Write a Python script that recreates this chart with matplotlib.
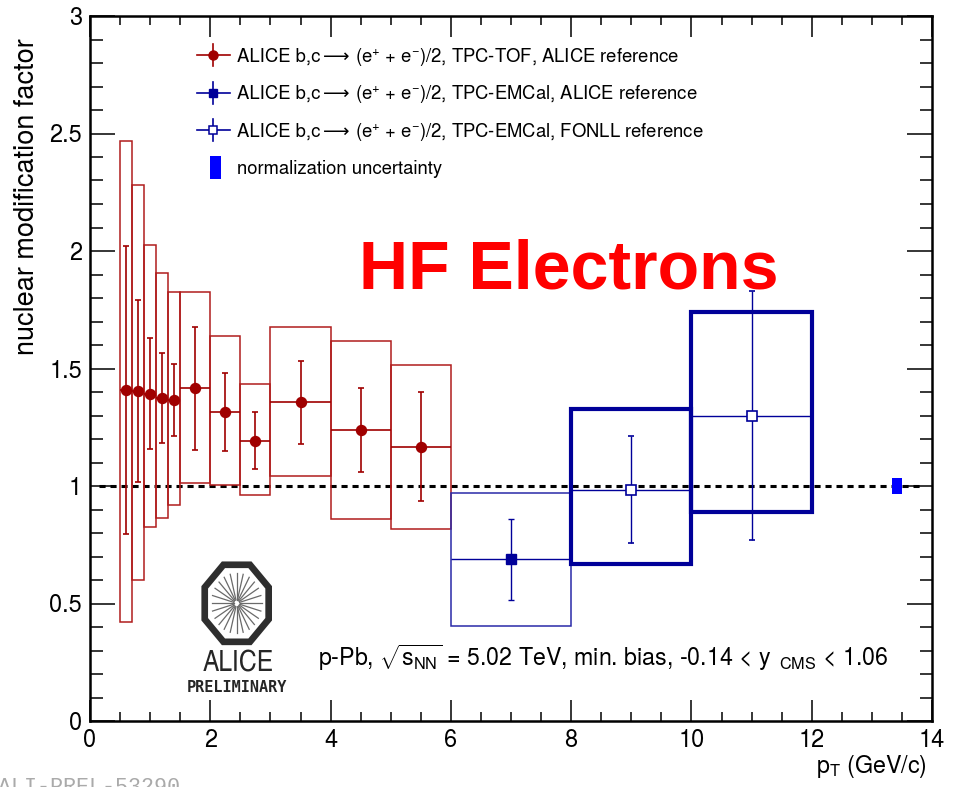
import matplotlib
matplotlib.use("Agg")
import matplotlib.pyplot as plt
from matplotlib.patches import Rectangle, Polygon
from matplotlib.ticker import FixedLocator, FixedFormatter, MultipleLocator
import numpy as np

# ---------------- data ----------------
# TPC-TOF, ALICE pp reference
tof_pt = [0.6, 0.8, 1.0, 1.2, 1.4, 1.75, 2.25, 2.75, 3.5, 4.5, 5.5]
tof_halfwidth = [0.1, 0.1, 0.1, 0.1, 0.1, 0.25, 0.25, 0.25, 0.5, 0.5, 0.5]
tof_rpa = [1.408, 1.404, 1.393, 1.374, 1.365, 1.415, 1.315, 1.193, 1.356, 1.238, 1.167]
tof_stat = [0.612, 0.386, 0.237, 0.192, 0.153, 0.260, 0.167, 0.121, 0.176, 0.177, 0.232]
tof_sys_up = [1.060, 0.875, 0.633, 0.534, 0.459, 0.411, 0.324, 0.239, 0.321, 0.377, 0.347]
tof_sys_down = [0.987, 0.803, 0.567, 0.510, 0.444, 0.401, 0.310, 0.233, 0.314, 0.377, 0.348]

# TPC-EMCal, ALICE pp reference
emc_alice_pt = [7.0]
emc_alice_halfwidth = [1.0]
emc_alice_rpa = [0.688]
emc_alice_stat = [0.173]
emc_alice_sys_up = [0.281]
emc_alice_sys_down = [0.282]

# TPC-EMCal, FONLL pp reference
emc_fonll_pt = [9.0, 11.0]
emc_fonll_halfwidth = [1.0, 1.0]
emc_fonll_rpa = [0.984, 1.299]
emc_fonll_stat = [0.228, 0.530]
emc_fonll_sys_up = [0.345, 0.443]
emc_fonll_sys_down = [0.315, 0.411]

# normalization uncertainty
norm_pt = 13.42
norm_halfwidth = 0.085
norm_unc = 0.033

xticks = [0, 2, 4, 6, 8, 10, 12, 14]
xtick_labels = ["0", "2", "4", "6", "8", "10", "12", "14"]
yticks = [0, 0.5, 1, 1.5, 2, 2.5, 3]
ytick_labels = ["0", "0.5", "1", "1.5", "2", "2.5", "3"]

legend_prefix = "ALICE b,c"
legend_arrow = "\u27f6"
legend_suffixes = [
    "(e$^{+}$ + e$^{-}$)/2, TPC-TOF, ALICE reference",
    "(e$^{+}$ + e$^{-}$)/2, TPC-EMCal, ALICE reference",
    "(e$^{+}$ + e$^{-}$)/2, TPC-EMCal, FONLL reference",
]
legend_norm = "normalization uncertainty"

# ---------------- style ----------------
SANS = ["TeX Gyre Heros", "Liberation Sans", "DejaVu Sans"]
plt.rcParams["font.family"] = SANS
plt.rcParams["mathtext.fontset"] = "custom"
plt.rcParams["mathtext.rm"] = "TeX Gyre Heros"
plt.rcParams["mathtext.it"] = "TeX Gyre Heros:italic"
plt.rcParams["mathtext.bf"] = "TeX Gyre Heros:bold"
plt.rcParams["mathtext.sf"] = "TeX Gyre Heros"
plt.rcParams["mathtext.default"] = "regular"

RED = "#a00000"
RED_BOX = "#b01c1c"
DBLUE = "#000099"
BLUE = "#0000ff"

W, H = 959, 787
fig = plt.figure(figsize=(W / 100, H / 100), dpi=100)
ax = fig.add_axes([90 / W, 1 - 721 / H, 842 / W, 705 / H])

ax.set_xlim(0, 14)
ax.set_ylim(0, 3)

# systematic boxes
for x, hw, v, su, sd in zip(tof_pt, tof_halfwidth, tof_rpa, tof_sys_up, tof_sys_down):
    ax.add_patch(Rectangle((x - hw, v - sd), 2 * hw, su + sd, fill=False,
                           ec=RED_BOX, lw=1.1, zorder=2))
for x, hw, v, su, sd in zip(emc_alice_pt, emc_alice_halfwidth, emc_alice_rpa,
                            emc_alice_sys_up, emc_alice_sys_down):
    ax.add_patch(Rectangle((x - hw, v - sd), 2 * hw, su + sd, fill=False,
                           ec="#2a2aa8", lw=1.1, zorder=2))
for x, hw, v, su, sd in zip(emc_fonll_pt, emc_fonll_halfwidth, emc_fonll_rpa,
                            emc_fonll_sys_up, emc_fonll_sys_down):
    ax.add_patch(Rectangle((x - hw, v - sd), 2 * hw, su + sd, fill=False,
                           ec=DBLUE, lw=3.0, zorder=2, joinstyle="miter"))

# reference line at unity
ax.plot([0.15, 13.85], [1, 1], color="black", lw=2.2, dashes=(2.0, 1.6), zorder=1)

# normalization box
ax.add_patch(Rectangle((norm_pt - norm_halfwidth, 1 - norm_unc), 2 * norm_halfwidth,
                       2 * norm_unc, color=BLUE, lw=0, zorder=4))

# bin widths
ax.hlines(tof_rpa, np.subtract(tof_pt, tof_halfwidth), np.add(tof_pt, tof_halfwidth),
          color=RED, lw=1.2, zorder=3)
ax.hlines(emc_alice_rpa, np.subtract(emc_alice_pt, emc_alice_halfwidth),
          np.add(emc_alice_pt, emc_alice_halfwidth), color=DBLUE, lw=1.0, zorder=3)
ax.hlines(emc_fonll_rpa, np.subtract(emc_fonll_pt, emc_fonll_halfwidth),
          np.add(emc_fonll_pt, emc_fonll_halfwidth), color=DBLUE, lw=1.0, zorder=3)

# statistical errors and points
ax.errorbar(tof_pt, tof_rpa, yerr=tof_stat, fmt="o", ms=7.2, color=RED, mec=RED,
            elinewidth=1.2, capsize=2.3, capthick=1.2, zorder=5)
ax.errorbar(emc_alice_pt, emc_alice_rpa, yerr=emc_alice_stat, fmt="s", ms=6.5,
            color=DBLUE, mec=DBLUE, elinewidth=1.0, capsize=2.3, capthick=1.0, zorder=5)
ax.errorbar(emc_fonll_pt, emc_fonll_rpa, yerr=emc_fonll_stat, fmt="s", ms=7,
            color=DBLUE, mfc="white", mec=DBLUE, mew=1.2,
            elinewidth=1.0, capsize=2.3, capthick=1.0, zorder=5)

# axes frame and ticks
for s in ax.spines.values():
    s.set_linewidth(1.8)
ax.xaxis.set_major_locator(FixedLocator(xticks))
ax.xaxis.set_major_formatter(FixedFormatter(xtick_labels))
ax.xaxis.set_minor_locator(MultipleLocator(0.5))
ax.yaxis.set_major_locator(FixedLocator(yticks))
ax.yaxis.set_major_formatter(FixedFormatter(ytick_labels))
ax.yaxis.set_minor_locator(MultipleLocator(0.1))
ax.tick_params(axis="x", which="both", direction="in", top=True, bottom=True,
               width=1.1, labelsize=17, pad=6)
ax.tick_params(axis="x", which="major", length=15)
ax.tick_params(axis="x", which="minor", length=6.7)
ax.tick_params(axis="y", which="both", direction="in", left=True, right=True,
               width=1.1, labelsize=17, pad=5.8)
ax.tick_params(axis="y", which="major", length=18)
ax.tick_params(axis="y", which="minor", length=9)

ax.set_xlabel("p$_{T}$ (GeV/c)", fontsize=16.8, ha="right", va="baseline")
ax.xaxis.set_label_coords((926.7 - 90) / 842, (721 - 773) / 705)
ax.set_ylabel("nuclear modification factor", fontsize=19.5, ha="right", va="center")
ax.yaxis.label.set_rotation_mode("anchor")
ax.yaxis.set_label_coords((27 - 90) / 842, (721 - 38) / 705)

# ---------------- overlay (legend, logo, captions) ----------------
ov = fig.add_axes([0, 0, 1, 1], facecolor="none")
ov.set_xlim(0, W)
ov.set_ylim(H, 0)
ov.axis("off")

rows = [55, 92.5, 130, 167.5]
mx = 213
LEG_FS = 13.3
for i, yr in enumerate(rows):
    base = yr + 6.7
    if i < 3:
        c = RED if i == 0 else DBLUE
        ov.plot([197, 230], [yr, yr], color=c, lw=1.2)
        ov.plot([mx, mx], [yr - 11, yr + 11], color=c, lw=1.2)
        if i == 0:
            ov.plot([mx], [yr], "o", ms=6.5, color=RED)
        elif i == 1:
            ov.plot([mx], [yr], "s", ms=5.5, color=DBLUE)
        else:
            ov.plot([mx], [yr], "s", ms=5.3, mfc="white", mec=DBLUE, mew=1.1)
        ov.text(237, base, legend_prefix, fontsize=LEG_FS, ha="left", va="baseline")
        ov.text(323, base, legend_arrow, fontsize=LEG_FS, family=["DejaVu Sans"],
                ha="left", va="baseline")
        ov.text(355, base, legend_suffixes[i], fontsize=LEG_FS, ha="left", va="baseline")
    else:
        ov.add_patch(Rectangle((210, yr - 12), 10.7, 23, color=BLUE, lw=0))
        ov.text(237, base, legend_norm, fontsize=LEG_FS, ha="left", va="baseline")

ov.text(359, 288.3, "HF Electrons", fontsize=49, fontweight="bold", color="#ff0000",
        family=["Liberation Sans", "DejaVu Sans"], ha="left", va="baseline")

ov.text(318, 666, r"p-Pb, $\sqrt{s_{NN}}$ = 5.02 TeV, min. bias, -0.14 < y$_{\ \ CMS}$ < 1.06",
        fontsize=16.7, ha="left", va="baseline")

# ALICE logo
cx, cy = 236.7, 603.3
ang = np.deg2rad(22.5 + 45 * np.arange(8))
octo = np.column_stack([cx + 34.6 * np.cos(ang), cy + 41.7 * np.sin(ang)])
ov.add_patch(Polygon(octo, closed=True, fill=False, ec="#2e2e2e", lw=4.8, joinstyle="miter"))
for a in np.deg2rad(np.arange(0, 360, 15)):
    ov.plot([cx + 3 * np.cos(a), cx + 25 * np.cos(a)],
            [cy + 3.6 * np.sin(a), cy + 30 * np.sin(a)], color="#6a6a6a", lw=0.9)
ov.text(238.5, 671.7, "ALICE", fontsize=21.6, color="#262626",
        family=["TeX Gyre Heros Cn", "Liberation Sans"], ha="center", va="baseline")
ov.text(237, 691.7, "PRELIMINARY", fontsize=11, fontweight="bold", color="#262626",
        family=["DejaVu Sans Mono"], ha="center", va="baseline")

ov.text(-2, 793, "ALI-PREL-53290", fontsize=15.7, color="#aaaaaa",
        family=["Liberation Mono", "DejaVu Sans Mono"], ha="left", va="baseline")

fig.savefig("out.png", dpi=100)
